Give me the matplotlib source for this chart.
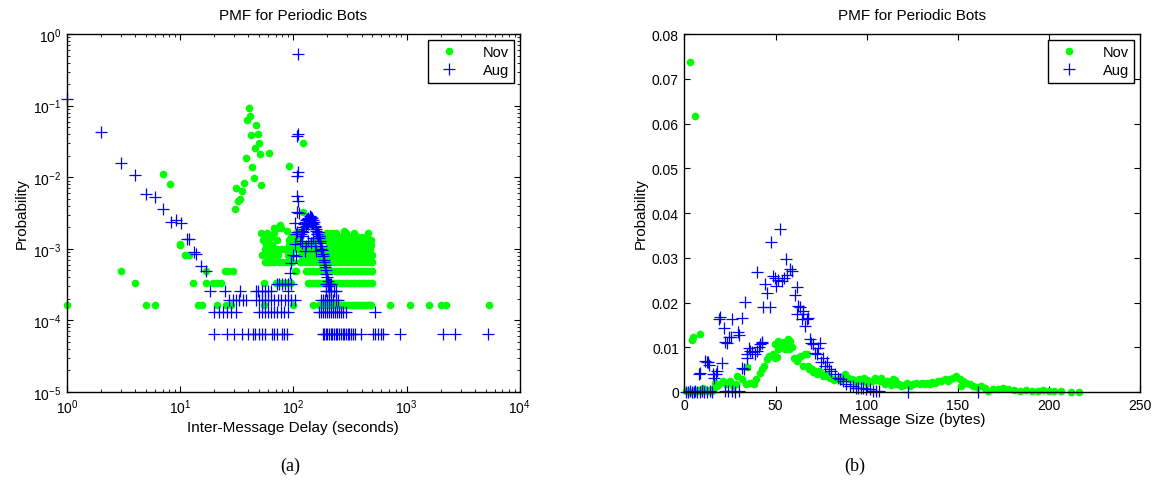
import matplotlib.pyplot as plt
from matplotlib.ticker import LogLocator, NullFormatter

plt.rcParams['font.family'] = ['Liberation Sans', 'DejaVu Sans']
plt.rcParams['mathtext.default'] = 'regular'

GREEN = '#00ff00'
BLUE = '#0000ff'

# ---------- (a) inter-message delay ----------
# one message in Nov / Aug corresponds to these totals (lowest rows of the PMF)
NOV_TOTAL = 6100
AUG_TOTAL = 15500

# Nov points above the quantised rows
nov_delay_x = [7, 8.1, 10, 30.2, 31.3, 32.2, 33.7, 35, 37, 38.5, 39.3, 40.3, 41.3,
               42.5, 43, 44.5, 45.5, 47, 48.5, 49.6, 50.5, 52, 60.6, 91, 122, 122]
nov_delay_p = [0.011, 0.0081, 0.00115, 0.0036, 0.0070, 0.0047, 0.0050, 0.0064, 0.0083,
               0.0188, 0.064, 0.094, 0.072, 0.039, 0.0137, 0.0099, 0.026, 0.053, 0.040,
               0.030, 0.021, 0.0078, 0.022, 0.0144, 0.030, 0.0033]

# Nov delays that occurred 1, 2, 3 ... times
nov_c1 = [1, 5, 6, 14.5, 15.5, 21, 25.5, 28, 55, 99, 149, 170, 176, 183, 190, 197, 210,
          225, 240, 252, 265, 275, 285, 296, 308, 320, 333, 346, 360, 374, 389, 404, 420,
          437, 455, 473, 490, 709, 1070, 1578, 2027, 2213, 5300]
nov_c2 = [4, 13, 17, 19.5, 21, 23, 54.5, 70, 75, 81, 88, 96, 134, 141, 149, 157, 166,
          175, 185, 195, 206, 217, 229, 242, 255, 269, 284, 300, 316, 333, 351, 370, 390,
          411, 433, 456, 480, 495]
nov_c3 = [3, 17, 25, 26.5, 29, 103, 106, 130, 137, 145, 153, 162, 171, 181, 191, 202, 213,
          225, 238, 251, 265, 280, 296, 313, 330, 349, 368, 389, 411, 434, 458, 484, 495]
nov_c4 = [56, 60, 64, 68, 75, 80, 86, 92, 98, 114, 120, 127, 134, 141, 149, 157, 166, 175,
          185, 195, 206, 217, 229, 242, 255, 269, 284, 300, 316, 333, 351, 370, 390, 411,
          433, 456, 480, 495]
nov_c5 = [11, 12, 53, 58, 63, 68, 73, 90, 95, 117, 123, 130, 137, 145, 153, 162, 171, 181,
          191, 202, 213, 225, 238, 251, 265, 280, 296, 313, 330, 349, 368, 389, 411, 434,
          458, 484, 495]
nov_c6 = [56, 61, 66, 71, 77, 84, 87, 100, 110, 120, 127, 134, 141, 149, 157, 166, 175,
          185, 195, 206, 217, 229, 242, 255, 269, 284, 300, 316, 333, 351, 370, 390, 411,
          433, 456, 480]
nov_c7 = [10, 57, 60, 62, 65, 92, 96, 100, 105, 120, 130, 140, 150, 205, 215, 226, 238,
          251, 265, 280, 296, 313, 330, 349, 368, 389, 411, 434, 458, 484]
nov_c8 = [54, 57, 60, 71, 92, 98, 104, 150, 165, 180, 200, 220, 240, 260, 280, 300, 330,
          350, 380, 400, 430, 460, 490]
nov_c9 = [59, 64, 95, 115, 190, 210, 230, 260, 300, 330, 370, 400, 450]
nov_c10 = [52, 59, 68, 105, 112, 200, 220, 240, 290, 340, 460]
nov_c11 = [88, 280]
nov_c12 = [68, 72, 77]
nov_c13 = [76]
nov_rows = [nov_c1, nov_c2, nov_c3, nov_c4, nov_c5, nov_c6, nov_c7,
            nov_c8, nov_c9, nov_c10, nov_c11, nov_c12, nov_c13]

# Aug: short delays, the ~100 s column, the 120-170 s bump and its tail
aug_short_x = [1, 2, 3, 4, 5, 6, 7, 8.3, 9.1, 10.2, 11.4, 12, 13.3, 13.9, 15.2, 17]
aug_short_p = [0.123, 0.043, 0.016, 0.0107, 0.0059, 0.0053, 0.0036, 0.0024, 0.0025,
               0.0023, 0.00136, 0.00136, 0.0009, 0.00085, 0.00057, 0.00049]
aug_col_x = [110, 110, 107, 110, 108, 107, 110, 107, 111, 103, 107, 103, 99.5, 96, 93,
             105, 106, 141]
aug_col_p = [0.525, 0.040, 0.038, 0.0117, 0.0104, 0.0055, 0.0047, 0.0033, 0.0032, 0.0023,
             0.0017, 0.00115, 0.00083, 0.00064, 0.00046, 0.0016, 0.0008, 0.0026]
aug_peak_x = [114, 116, 118, 119, 121, 122, 124, 125, 127, 128, 130, 131, 133, 134, 136,
              137, 139, 140, 142, 143, 145, 146, 148, 150, 152, 154, 156, 158, 160, 162,
              164, 166, 168, 120, 126, 130, 135, 144, 150, 155]
aug_peak_p = [1.3e-3, 1.6e-3, 1.8e-3, 1.5e-3, 2.0e-3, 1.7e-3, 2.2e-3, 1.9e-3, 2.4e-3,
              2.1e-3, 2.5e-3, 2.3e-3, 2.6e-3, 2.2e-3, 2.7e-3, 2.5e-3, 2.9e-3, 2.6e-3,
              2.8e-3, 2.4e-3, 2.7e-3, 2.3e-3, 2.5e-3, 2.2e-3, 2.4e-3, 2.0e-3, 2.1e-3,
              1.8e-3, 1.9e-3, 1.6e-3, 1.7e-3, 1.4e-3, 1.5e-3, 1.2e-3, 9.3e-4, 1.1e-3,
              1.3e-3, 1.2e-3, 1.4e-3, 1.1e-3]
aug_tail_x = [160, 163, 165, 167, 169, 171, 173, 175, 177, 179, 181, 183, 185, 187, 189,
              191, 193, 195, 198, 201, 204, 208, 212]
aug_tail_p = [9.3e-4, 1.6e-3, 1.7e-3, 1.4e-3, 1.5e-3, 1.2e-3, 1.3e-3, 1.1e-3, 1.0e-3,
              9.5e-4, 8.5e-4, 8.0e-4, 7.0e-4, 6.5e-4, 6.0e-4, 5.5e-4, 5.0e-4, 4.5e-4,
              4.0e-4, 3.5e-4, 3.0e-4, 2.6e-4, 3.2e-4]

aug_c1 = [20, 26, 30, 35, 40, 44, 46, 50, 53, 56, 65, 68, 72, 79, 83, 87, 183, 188, 194,
          200, 207, 214, 221, 229, 237, 245, 254, 263, 272, 282, 292, 302, 313, 324, 336,
          348, 398, 505, 530, 560, 590, 620, 867, 2090, 2680, 5200]
aug_c2 = [20, 22, 24, 26, 28, 31, 50, 53, 56, 60, 64, 68, 72, 77, 82, 89, 170, 176, 183,
          190, 197, 205, 213, 222, 232, 242, 253, 264, 275, 293, 523]
aug_c3 = [27, 29, 31, 33, 36, 38.5, 47, 50, 53, 56, 60, 64, 68, 73, 78, 84, 90, 96, 103,
          176, 183, 190, 198, 206, 215, 225, 236, 247]
aug_c4 = [18.3, 24.8, 33.6, 47, 49, 53, 56, 60, 64, 89.6, 195, 205, 215, 228, 240]
aug_c5 = [71, 75, 80, 85, 90, 96, 196, 206, 216]
aug_rows = [aug_c1, aug_c2, aug_c3, aug_c4, aug_c5]

# ---------- (b) message size ----------
nov_size_x = [2.9, 5.8, 3.9, 4.8, 8.4,
              1, 2, 3, 5, 6, 7, 8, 9, 10, 11, 12, 13, 14, 15, 16,
              17, 17.6, 19, 21.3, 23, 25, 26.5, 28.3, 29, 31.8,
              33.6, 34.1, 36, 38, 39.5, 41.2, 42.3, 43.5, 45.4, 46.6,
              48.5, 49.9, 50.9, 51.4, 52.6, 53.5, 54.4, 56.3, 56.8, 58.1,
              59, 61.3, 62.7, 64.1, 66, 67.2, 68.2, 70, 71.8, 73.7,
              75.5, 78.3, 80, 81.9, 84.6, 86.5, 88.3, 90.1, 92, 93.8,
              95.6, 98.4, 100.2, 102.9, 104.8, 107.5, 108.1, 109.9, 111.2, 113.1,
              114.5, 115.4, 116.3, 117.6, 119, 120.4, 122, 123.6, 125.5, 127,
              129, 130.5, 131.8, 133, 134.6, 136, 137.3, 139, 141, 142.8,
              144.6, 146, 147.5, 149.2, 151, 152, 152.9, 154.5, 156.5, 158.3,
              160.5, 163, 165, 166.6, 169.3, 172, 175, 177.5, 181, 184,
              187.5, 191, 194, 197, 200, 203, 206.8, 212.3, 216.7,
              49.6, 51.5, 55, 57.5, 60, 62, 65, 68, 70.5, 72.5,
              76, 78, 82, 86, 90, 94, 97, 100, 105, 110]
nov_size_p = [0.0737, 0.0618, 0.0116, 0.0122, 0.0130,
              0.0003, 0.0002, 0.0001, 0.0002, 0.0003, 0.0002, 0.0004, 0.0003, 0.0010,
              0.0005, 0.0003, 0.0002, 0.0004, 0.0003, 0.0008,
              0.0021, 0.0013, 0.0017, 0.0025, 0.0017, 0.0025, 0.0013, 0.0017, 0.0036, 0.0028,
              0.0017, 0.0055, 0.0021, 0.0017, 0.0028, 0.0043, 0.0051, 0.0057, 0.0073, 0.0081,
              0.0084, 0.0107, 0.0079, 0.0114, 0.0109, 0.0100, 0.0112, 0.0098, 0.0118, 0.0114,
              0.0100, 0.0073, 0.0079, 0.0081, 0.0084, 0.0084, 0.0051, 0.0052, 0.0047, 0.0047,
              0.0040, 0.0038, 0.0032, 0.0027, 0.0028, 0.0034, 0.0040, 0.0030, 0.0028, 0.0025,
              0.0030, 0.0032, 0.0027, 0.0025, 0.0032, 0.0025, 0.0032, 0.0017, 0.0025, 0.0015,
              0.0028, 0.0027, 0.0017, 0.0017, 0.0013, 0.0015, 0.0019, 0.0013, 0.0017, 0.0021,
              0.0017, 0.0019, 0.0017, 0.0021, 0.0017, 0.0023, 0.0021, 0.0024, 0.0025, 0.0028,
              0.0025, 0.0030, 0.0032, 0.0036, 0.0028, 0.0013, 0.0025, 0.0019, 0.0017, 0.0013,
              0.0011, 0.0013, 0.0009, 0.0002, 0.0006, 0.0006, 0.0008, 0.0006, 0.0005, 0.0002,
              0.0004, 0.0002, 0.0003, 0.0004, 0.0003, 0.0002, 0.0002, 0.0001, 0.0001,
              0.0075, 0.0095, 0.0097, 0.0095, 0.0075, 0.0069, 0.0058, 0.0058, 0.0044, 0.0040,
              0.0036, 0.0035, 0.0030, 0.0026, 0.0032, 0.0023, 0.0025, 0.0021, 0.0026, 0.0022]

aug_size_x = [1, 2, 3, 4, 5, 6, 7, 8.7, 9.5, 11, 12.5, 14, 15,
              22, 24, 26, 28, 30, 122.7, 161,
              8.0, 8.5, 11.2, 12.2, 13.0, 13.4, 15.8, 16.2, 17.1, 17.6,
              18.7, 19.7, 20.5, 21.5, 22.2, 23.1, 24.6, 25.5, 26.0, 29.5,
              30.2, 31.4, 31.5, 32.6, 33.1, 34.1, 34.4, 35.4, 35.9, 36.8,
              38.7, 39.6, 39.9, 40.8, 41.4, 42.3, 42.7, 43.2, 44.1, 45.4,
              46.9, 47.4, 48.5, 49.5, 50.5, 51.5, 52.4, 53.5, 54.5, 55.6,
              56.5, 57.8, 58.8, 60.6, 61.5, 62.4, 63.3, 64.3, 65.1, 66.0,
              62.0, 64.8, 67.0, 67.9, 68.8, 69.7, 70.5, 71.5, 72.5, 73.5,
              74.3, 75.2, 76.1, 77.0, 78.0, 79.5, 80.7, 82.5, 84.3, 85.5,
              87.1, 88.9, 90.7, 92.5, 94.0, 95.3, 97.0, 98.0, 99.5, 101.7,
              103.5, 105, 106.5]
aug_size_p = [0.0001, 0.0001, 0.0002, 0.0001, 0.0001, 0.0002, 0.0001, 0.0001, 0.0002,
              0.0001, 0.0001, 0.0002, 0.0001,
              0.0003, 0.0002, 0.0003, 0.0001, 0.0002, 0.0001, 0.0001,
              0.0041, 0.0043, 0.0069, 0.0067, 0.0066, 0.0060, 0.0040, 0.0032, 0.0040, 0.0047,
              0.0163, 0.0167, 0.0065, 0.0143, 0.0112, 0.0109, 0.0122, 0.0124, 0.0163, 0.0133,
              0.0127, 0.0053, 0.0166, 0.0052, 0.0201, 0.0084, 0.0077, 0.0099, 0.0092, 0.0090,
              0.0084, 0.0269, 0.0092, 0.0100, 0.0107, 0.0112, 0.0110, 0.0189, 0.0241, 0.0222,
              0.0191, 0.0336, 0.0260, 0.0255, 0.0237, 0.0250, 0.0364, 0.0248, 0.0255, 0.0297,
              0.0262, 0.0276, 0.0271, 0.0216, 0.0235, 0.0192, 0.0189, 0.0163, 0.0174, 0.0148,
              0.0174, 0.0180, 0.0163, 0.0166, 0.0118, 0.0110, 0.0107, 0.0088, 0.0084, 0.0099,
              0.0110, 0.0066, 0.0077, 0.0058, 0.0066, 0.0051, 0.0047, 0.0040, 0.0032, 0.0028,
              0.0025, 0.0017, 0.0013, 0.0013, 0.0010, 0.0010, 0.0008, 0.0008, 0.0006, 0.0006,
              0.0002, 0.0003, 0.0002]

size_yticks = [0, 0.01, 0.02, 0.03, 0.04, 0.05, 0.06, 0.07, 0.08]
size_ylabels = ['0', '0.01', '0.02', '0.03', '0.04', '0.05', '0.06', '0.07', '0.08']
size_xticks = [0, 50, 100, 150, 200, 250]

# gather the quantised rows into x / probability pairs
nov_x = list(nov_delay_x)
nov_p = list(nov_delay_p)
for k, row in enumerate(nov_rows, start=1):
    nov_x += row
    nov_p += [k / NOV_TOTAL] * len(row)

aug_x = aug_short_x + aug_col_x + aug_peak_x + aug_tail_x
aug_p = aug_short_p + aug_col_p + aug_peak_p + aug_tail_p
for k, row in enumerate(aug_rows, start=1):
    aug_x += row
    aug_p += [k / AUG_TOTAL] * len(row)

fig = plt.figure(figsize=(11.55, 4.81), dpi=100)
ax1 = fig.add_axes([0.058, 0.183, 0.392, 0.744])
ax2 = fig.add_axes([0.5926, 0.183, 0.3944, 0.744])

nov_style = dict(linestyle='none', marker='o', color=GREEN, markersize=5.5,
                 markeredgewidth=0, clip_on=False)
aug_style = dict(linestyle='none', marker='+', color=BLUE, markersize=9,
                 markeredgewidth=0.9, clip_on=False)

ax1.plot(nov_x, nov_p, label='Nov', **nov_style)
ax1.plot(aug_x, aug_p, label='Aug', **aug_style)
ax1.set_xscale('log')
ax1.set_yscale('log')
ax1.set_xlim(1, 1e4)
ax1.set_ylim(1e-5, 1)
ax1.xaxis.set_major_locator(LogLocator(base=10, numticks=10))
ax1.yaxis.set_major_locator(LogLocator(base=10, numticks=10))
ax1.xaxis.set_minor_locator(LogLocator(base=10, subs=range(2, 10), numticks=20))
ax1.yaxis.set_minor_locator(LogLocator(base=10, subs=range(2, 10), numticks=20))
ax1.xaxis.set_minor_formatter(NullFormatter())
ax1.yaxis.set_minor_formatter(NullFormatter())
ax1.set_xlabel('Inter-Message Delay (seconds)', fontsize=11, labelpad=3)

ax2.plot(nov_size_x, nov_size_p, label='Nov', **nov_style)
ax2.plot(aug_size_x, aug_size_p, label='Aug', **aug_style)
ax2.set_xlim(0, 250)
ax2.set_ylim(0, 0.08)
ax2.set_xticks(size_xticks)
ax2.set_yticks(size_yticks)
ax2.set_yticklabels(size_ylabels)
ax2.set_xlabel('Message Size (bytes)', fontsize=11, labelpad=0.5)

for ax in (ax1, ax2):
    ax.set_title('PMF for Periodic Bots', fontsize=11, pad=11)
    ax.set_ylabel('Probability', fontsize=11, labelpad=3)
    ax.tick_params(which='both', direction='in', top=True, right=True, labelsize=10, pad=4)
    ax.tick_params(which='major', length=4, width=0.8)
    ax.tick_params(which='minor', length=2, width=0.6)
    for sp in ax.spines.values():
        sp.set_linewidth(1.0)
        sp.set_zorder(3)
    leg = ax.legend(loc='upper right', fontsize=10.5, fancybox=False, framealpha=1,
                    edgecolor='black', handlelength=2.2, handletextpad=1.2,
                    borderaxespad=0.4, labelspacing=0.3, borderpad=0.35)
    leg.get_frame().set_linewidth(1.0)
    leg.set_zorder(5)

fig.text(0.251, 0.031, '(a)', ha='center', va='center', fontsize=13,
         family=['Liberation Serif', 'DejaVu Serif'])
fig.text(0.740, 0.031, '(b)', ha='center', va='center', fontsize=13,
         family=['Liberation Serif', 'DejaVu Serif'])

plt.savefig('out.png', dpi=100)
